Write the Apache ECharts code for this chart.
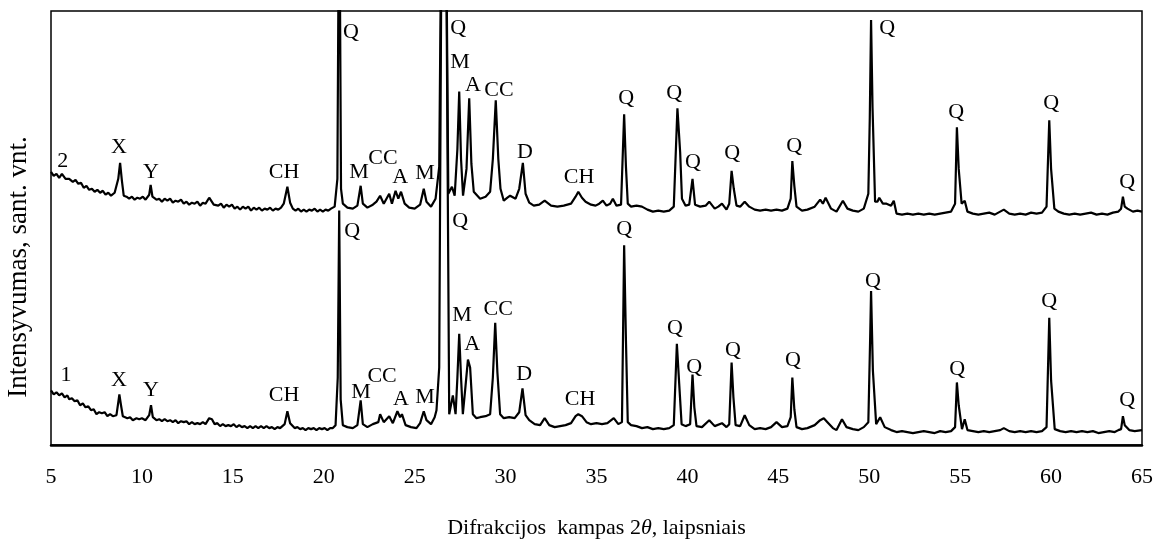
<!DOCTYPE html>
<html>
<head>
<meta charset="utf-8">
<script src="https://cdn.jsdelivr.net/npm/echarts@6/dist/echarts.min.js"></script>
<style>
html,body{margin:0;padding:0;background:#fff;}
#c{width:1156px;height:544px;}
</style>
</head>
<body>
<div id="c"></div>
<script>
// X-axis ticks
var xTicks = [5,10,15,20,25,30,35,40,45,50,55,60,65];

// Series 2 (upper trace): 2theta and relative intensity
var x2 = [5.0,5.15,5.3,5.45,5.6,5.8,6.0,6.2,6.35,6.5,6.65,6.8,6.95,7.1,7.25,7.4,7.55,7.7,7.85,8.0,8.15,8.3,8.5,8.6,8.7,8.8,8.9,9.0,9.15,9.3,9.45,9.6,9.75,9.9,10.05,10.2,10.4,10.48,10.58,10.8,10.95,11.1,11.25,11.4,11.55,11.7,11.85,12.0,12.15,12.3,12.45,12.6,12.75,12.9,13.05,13.2,13.35,13.5,13.7,13.8,13.95,14.2,14.35,14.5,14.65,14.8,14.95,15.1,15.25,15.4,15.55,15.7,15.85,16.0,16.15,16.3,16.45,16.6,16.75,16.9,17.05,17.2,17.35,17.5,17.65,17.8,18.0,18.15,18.3,18.45,18.6,18.75,18.9,19.05,19.2,19.35,19.5,19.65,19.8,19.95,20.1,20.25,20.4,20.6,20.75,20.85,20.95,21.05,21.3,21.6,21.85,22.03,22.15,22.4,22.7,22.9,23.1,23.3,23.6,23.75,23.95,24.1,24.25,24.45,24.7,25.0,25.3,25.5,25.65,25.9,26.15,26.35,26.5,26.7,26.85,27.05,27.2,27.35,27.45,27.55,27.66,27.85,28.0,28.12,28.25,28.6,28.9,29.15,29.3,29.46,29.6,29.72,29.9,30.1,30.25,30.55,30.75,30.95,31.1,31.3,31.55,31.85,32.15,32.5,32.85,33.2,33.6,33.85,34.0,34.2,34.4,34.7,34.95,35.15,35.35,35.55,35.75,35.9,36.1,36.35,36.52,36.62,36.72,36.9,37.2,37.5,37.8,38.1,38.4,38.7,39.0,39.25,39.45,39.6,39.7,39.9,40.1,40.28,40.42,40.7,41.0,41.2,41.5,41.7,41.9,42.15,42.3,42.43,42.55,42.7,42.9,43.15,43.4,43.7,44.0,44.3,44.6,44.9,45.2,45.5,45.68,45.77,45.88,46.0,46.3,46.6,47.0,47.3,47.45,47.6,47.9,48.2,48.55,48.8,49.1,49.4,49.7,49.95,50.03,50.1,50.18,50.25,50.32,50.45,50.55,50.75,50.95,51.2,51.35,51.5,51.8,52.1,52.4,52.7,53.0,53.3,53.6,53.9,54.2,54.5,54.72,54.82,54.92,55.0,55.08,55.25,55.4,55.7,56.0,56.3,56.6,56.9,57.2,57.4,57.7,58.0,58.3,58.6,58.9,59.2,59.5,59.75,59.9,60.0,60.08,60.18,60.4,60.7,61.0,61.3,61.6,61.9,62.2,62.5,62.8,63.1,63.4,63.7,63.85,63.95,64.05,64.2,64.5,64.75,65.0];
var y2 = [275,271,273,269,273,268,268,265,267,263,264,259,261,257,258,255,257,254,256,252,254,251,254,253,268,284,266,251,250,248,250,247,249,248,250,247,252,262,250,247,248,245,248,246,248,244,246,245,247,243,245,242,244,243,245,241,244,243,249,248,242,241,243,239,242,240,242,238,240,237,240,238,240,236,239,237,239,236,238,237,239,236,238,237,239,243,260,244,238,236,238,235,237,235,237,236,238,235,237,235,237,236,238,240,268,600,258,243,239,238,241,261,243,239,242,245,251,243,253,243,256,248,255,243,239,238,242,258,245,240,248,280,600,600,253,260,251,298,356,288,251,278,349,283,255,248,250,255,288,347,288,258,246,249,251,248,258,284,253,244,241,242,246,241,240,241,243,250,255,249,245,242,241,243,246,241,243,248,241,242,333,280,243,240,241,240,237,235,236,235,236,240,339,295,248,241,242,268,242,240,241,245,238,240,243,237,243,276,258,241,240,245,240,237,236,237,236,237,236,238,248,286,261,240,236,237,240,247,243,249,238,235,246,238,236,235,238,253,330,428,340,340,245,245,249,243,243,241,246,233,232,233,232,233,232,233,232,233,234,235,243,320,278,278,243,246,235,233,232,233,234,232,235,237,233,232,233,232,234,233,234,240,327,278,278,238,235,233,232,233,232,233,234,232,233,232,234,235,238,250,240,238,235,236,235];

// Series 1 (lower trace): 2theta and relative intensity
var x1 = [5.0,5.15,5.3,5.45,5.6,5.75,5.9,6.0,6.15,6.3,6.45,6.6,6.75,6.9,7.05,7.2,7.35,7.5,7.65,7.8,7.95,8.1,8.25,8.4,8.6,8.7,8.76,8.85,8.95,9.2,9.35,9.5,9.7,9.85,10.0,10.2,10.4,10.5,10.6,10.8,10.95,11.1,11.25,11.4,11.55,11.7,11.85,12.0,12.15,12.3,12.45,12.6,12.75,12.9,13.05,13.2,13.35,13.5,13.7,13.85,14.0,14.15,14.3,14.45,14.6,14.75,14.9,15.05,15.2,15.35,15.5,15.65,15.8,15.95,16.1,16.25,16.4,16.55,16.7,16.85,17.0,17.15,17.3,17.45,17.6,17.85,18.0,18.15,18.4,18.55,18.7,18.85,19.0,19.15,19.3,19.45,19.6,19.75,19.9,20.05,20.2,20.35,20.5,20.65,20.77,20.85,20.93,21.05,21.3,21.6,21.85,22.03,22.15,22.4,22.7,23.0,23.1,23.3,23.6,23.8,24.05,24.2,24.3,24.5,24.8,25.1,25.3,25.5,25.65,25.9,26.1,26.2,26.35,26.5,26.7,26.9,27.1,27.25,27.35,27.45,27.55,27.65,27.8,27.93,28.05,28.2,28.4,28.6,28.9,29.15,29.3,29.43,29.55,29.7,29.9,30.2,30.5,30.75,30.93,31.1,31.3,31.6,31.9,32.15,32.4,32.7,33.0,33.3,33.6,33.85,34.0,34.2,34.45,34.7,35.0,35.3,35.6,35.95,36.2,36.4,36.52,36.62,36.72,36.9,37.2,37.5,37.8,38.1,38.4,38.7,39.0,39.25,39.42,39.55,39.68,39.9,40.15,40.28,40.38,40.5,40.8,41.2,41.5,41.9,42.15,42.3,42.43,42.53,42.65,42.9,43.15,43.4,43.7,44.0,44.3,44.6,44.9,45.2,45.5,45.68,45.77,45.88,46.0,46.3,46.6,47.0,47.3,47.5,47.7,48.0,48.2,48.5,48.75,49.1,49.4,49.7,49.95,50.05,50.1,50.2,50.28,50.38,50.6,50.85,51.2,51.5,51.8,52.1,52.4,52.7,53.0,53.3,53.6,53.9,54.2,54.5,54.72,54.82,54.92,55.0,55.1,55.25,55.4,55.7,56.0,56.3,56.6,56.9,57.2,57.4,57.7,58.0,58.3,58.6,58.9,59.2,59.5,59.75,59.9,60.0,60.08,60.2,60.5,60.8,61.1,61.4,61.7,62.0,62.3,62.6,62.9,63.2,63.5,63.7,63.85,63.95,64.05,64.3,64.6,65.0];
var y1 = [55,51,53,50,52,48,50,46,47,44,45,40,42,38,39,35,36,31,33,32,33,29,31,29,30,43,51,40,29,27,28,25,27,26,27,25,30,40,28,25,26,24,26,24,25,23,25,22,24,23,24,21,23,21,22,21,23,21,27,26,21,22,19,21,19,20,19,21,18,20,18,19,17,19,17,19,17,19,17,19,17,18,16,18,17,21,34,22,17,18,16,17,15,17,16,17,15,17,16,17,15,17,17,20,68,236,46,20,18,17,20,45,21,18,21,23,31,23,29,22,34,28,31,20,18,17,22,34,25,21,28,35,78,600,600,31,50,31,68,112,68,31,60,86,78,31,27,28,29,31,68,123,73,31,27,28,27,33,57,30,25,21,20,27,20,18,19,20,22,29,31,29,23,21,22,21,22,27,21,23,201,105,23,20,19,17,18,16,17,16,17,20,102,61,21,19,21,71,38,19,18,25,19,22,18,21,83,48,20,19,30,20,16,17,16,18,23,18,19,28,68,36,18,16,17,20,25,27,23,17,15,26,18,16,15,18,23,108,155,75,75,21,28,18,15,13,14,13,12,13,14,13,12,14,13,14,18,63,40,40,16,26,15,14,13,14,13,14,15,17,14,13,14,13,14,13,14,18,128,65,65,16,14,13,14,13,14,13,14,12,13,14,13,15,16,29,20,15,14,15];

// Phase labels: [2theta, height, text]
var labels2 = [[5.64,286,'2'],[8.74,300,'X'],[10.5,275,'Y'],[17.82,275,'CH'],[21.5,416,'Q'],[21.94,275,'M'],[23.26,289,'CC'],[24.2,270,'A'],[25.57,274,'M'],[27.39,420,'Q'],[27.5,385,'M'],[28.21,362,'A'],[29.64,357,'CC'],[31.07,295,'D'],[34.04,270,'CH'],[36.63,349,'Q'],[39.27,354,'Q'],[40.31,285,'Q'],[42.46,294,'Q'],[45.87,301,'Q'],[50.98,420,'Q'],[54.78,335,'Q'],[60.0,344,'Q'],[64.19,265,'Q']];
var labels1 = [[5.83,70,'1'],[8.74,65,'X'],[10.5,55,'Y'],[17.82,50,'CH'],[21.56,215,'Q'],[22.05,53,'M'],[23.21,69,'CC'],[24.25,46,'A'],[25.57,48,'M'],[27.5,225,'Q'],[27.6,131,'M'],[28.16,101,'A'],[29.59,137,'CC'],[31.02,71,'D'],[34.1,46,'CH'],[36.52,217,'Q'],[39.32,118,'Q'],[40.37,78,'Q'],[42.51,95,'Q'],[45.81,85,'Q'],[50.21,165,'Q'],[54.83,76,'Q'],[59.9,145,'Q'],[64.19,45,'Q']];

var FONT = "'Liberation Serif','Times New Roman',serif";

function zip(xs, ys){ var out=[]; for(var i=0;i<xs.length;i++) out.push([xs[i], ys[i]]); return out; }
function labSeries(arr){
  return {
    type:'scatter', symbol:'circle', symbolSize:0, silent:true,
    itemStyle:{color:'#000', opacity:1},
    data: arr.map(function(d){ return {value:[d[0], d[1]], name:d[2]}; }),
    label:{show:true, position:'inside', formatter:function(p){return p.name;}, color:'#000', opacity:1, textBorderWidth:0, fontFamily:FONT, fontSize:22},
    labelLayout:{hideOverlap:false},
    z:5
  };
}

var chart = echarts.init(document.getElementById('c'), null, {renderer:'canvas'});
chart.setOption({
  animation:false,
  backgroundColor:'#fff',
  grid:{left:51, right:14, top:11, bottom:96, show:true, borderColor:'#000', borderWidth:1.5, backgroundColor:'transparent'},
  xAxis:{
    type:'value', min:xTicks[0], max:xTicks[xTicks.length-1], interval:5,
    axisLine:{show:true, lineStyle:{color:'#000', width:2.5}},
    axisTick:{show:false},
    splitLine:{show:false},
    axisLabel:{color:'#000', fontFamily:FONT, fontSize:22, margin:21},
    name:'{a|Difrakcijos  kampas 2}{i|θ}{a|, laipsniais}',
    nameLocation:'middle', nameGap:72,
    nameTextStyle:{rich:{
      a:{fontFamily:FONT, fontSize:22, color:'#000'},
      i:{fontFamily:FONT, fontSize:22, color:'#000', fontStyle:'italic'}
    }}
  },
  yAxis:{
    type:'value', min:0, max:437,
    axisLine:{show:false}, axisTick:{show:false}, axisLabel:{show:false}, splitLine:{show:false}
  },
  graphic:[{
    type:'text', x:19, y:267, rotation:Math.PI/2,
    style:{text:'Intensyvumas, sant. vnt.', fontFamily:FONT, fontSize:27, fill:'#000', textAlign:'center', textVerticalAlign:'middle'}
  }],
  series:[
    {type:'line', data:zip(x2,y2), showSymbol:false, symbol:'none', clip:true, lineStyle:{color:'#000', width:2.2}, z:3},
    {type:'line', data:zip(x1,y1), showSymbol:false, symbol:'none', clip:true, lineStyle:{color:'#000', width:2.2}, z:3},
    labSeries(labels2),
    labSeries(labels1)
  ]
});
</script>
</body>
</html>
